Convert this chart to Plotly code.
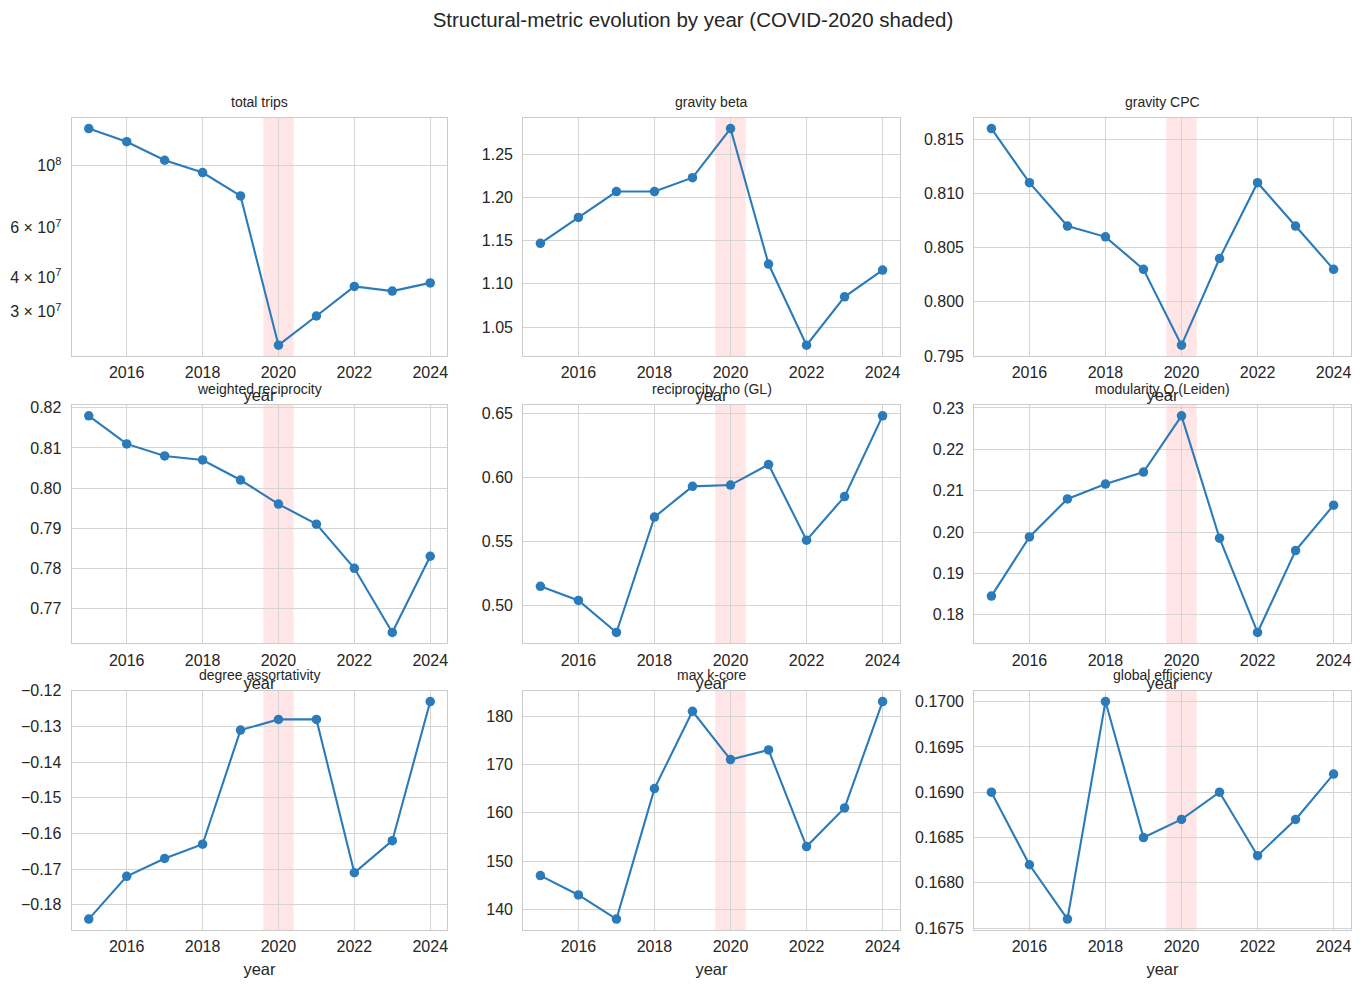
import math
import plotly.graph_objects as go

years = [2015, 2016, 2017, 2018, 2019, 2020, 2021, 2022, 2023, 2024]

total_trips = [1.36e8, 1.22e8, 1.047e8, 9.46e7, 7.8e7, 2.28e7, 2.9e7, 3.7e7, 3.56e7, 3.81e7]
gravity_beta = [1.147, 1.177, 1.207, 1.207, 1.223, 1.280, 1.123, 1.029, 1.085, 1.116]
gravity_cpc = [0.816, 0.811, 0.807, 0.806, 0.803, 0.796, 0.804, 0.811, 0.807, 0.803]
weighted_reciprocity = [0.818, 0.811, 0.808, 0.807, 0.802, 0.796, 0.791, 0.780, 0.764, 0.783]
reciprocity_rho = [0.515, 0.504, 0.479, 0.569, 0.593, 0.594, 0.610, 0.551, 0.585, 0.648]
modularity_q = [0.1845, 0.1988, 0.2080, 0.2116, 0.2145, 0.2281, 0.1985, 0.1757, 0.1955, 0.2065]
degree_assortativity = [-0.184, -0.172, -0.167, -0.163, -0.131, -0.128, -0.128, -0.171, -0.162, -0.123]
max_kcore = [147, 143, 138, 165, 181, 171, 173, 153, 161, 183]
global_efficiency = [0.1690, 0.1682, 0.1676, 0.1700, 0.1685, 0.1687, 0.1690, 0.1683, 0.1687, 0.1692]

titles = ["total trips", "gravity beta", "gravity CPC",
          "weighted reciprocity", "reciprocity rho (GL)", "modularity Q (Leiden)",
          "degree assortativity", "max k-core", "global efficiency"]
series = [total_trips, gravity_beta, gravity_cpc,
          weighted_reciprocity, reciprocity_rho, modularity_q,
          degree_assortativity, max_kcore, global_efficiency]

# y tick labels per panel
log_tickvals = [3e7, 4e7, 6e7, 1e8]
log_ticktext = ["3 × 10<sup>7</sup>", "4 × 10<sup>7</sup>", "6 × 10<sup>7</sup>", "10<sup>8</sup>"]
tick_specs = [
    None,
    ([1.05, 1.10, 1.15, 1.20, 1.25], 2),
    ([0.795, 0.800, 0.805, 0.810, 0.815], 3),
    ([0.77, 0.78, 0.79, 0.80, 0.81, 0.82], 2),
    ([0.50, 0.55, 0.60, 0.65], 2),
    ([0.18, 0.19, 0.20, 0.21, 0.22, 0.23], 2),
    ([-0.18, -0.17, -0.16, -0.15, -0.14, -0.13, -0.12], 2),
    ([140, 150, 160, 170, 180], 0),
    ([0.1675, 0.1680, 0.1685, 0.1690, 0.1695, 0.1700], 4),
]
x_ticks = [2016, 2018, 2020, 2022, 2024]

covid_start, covid_end = 2019.6, 2020.4

W, H = 1361, 989
col_dom = [(71.7 / W, 447.3 / W), (523.3 / W, 899.7 / W), (974.3 / W, 1350.7 / W)]
row_px = [(117.7, 356.0), (405.0, 643.3), (690.7, 930.0)]
row_dom = [(1 - b / H, 1 - t / H) for (t, b) in row_px]

FONT = "Liberation Sans, Arial, sans-serif"
TXT = "#262626"
GRID = "#d4d4d4"
SPINE = "#cccccc"
BLUE = "#2b7bba"

fig = go.Figure()
layout = {}
annotations = []
shapes = []

for i, (title, vals) in enumerate(zip(titles, series)):
    r, c = divmod(i, 3)
    n = i + 1
    xa = "x" if n == 1 else f"x{n}"
    ya = "y" if n == 1 else f"y{n}"
    xkey = "xaxis" if n == 1 else f"xaxis{n}"
    ykey = "yaxis" if n == 1 else f"yaxis{n}"

    fig.add_trace(go.Scatter(
        x=years, y=vals, mode="lines+markers", xaxis=xa, yaxis=ya,
        line=dict(color=BLUE, width=2.1),
        marker=dict(color=BLUE, size=9.5),
        showlegend=False,
    ))

    xpad = 0.05 * (max(years) - min(years))
    layout[xkey] = dict(
        domain=list(col_dom[c]), anchor=ya, automargin=False,
        range=[min(years) - xpad, max(years) + xpad],
        tickvals=x_ticks, ticktext=[str(v) for v in x_ticks],
        showgrid=True, gridcolor=GRID, gridwidth=1,
        showline=True, mirror=True, linecolor=SPINE, linewidth=1.25,
        zeroline=False, ticks="outside", ticklen=2, tickcolor="rgba(0,0,0,0)",
        tickfont=dict(family=FONT, size=16, color=TXT),
        title=dict(text="year", font=dict(family=FONT, size=16.5, color=TXT), standoff=9),
    )

    if i == 0:
        lo, hi = math.log10(min(vals)), math.log10(max(vals))
        pad = 0.05 * (hi - lo)
        layout[ykey] = dict(
            domain=list(row_dom[r]), anchor=xa, type="log",
            range=[lo - pad, hi + pad],
            tickvals=log_tickvals, ticktext=log_ticktext,
            showgrid=False,
            minor=dict(tickvals=[1e8], showgrid=True, gridcolor=GRID, gridwidth=1, ticks=""),
        )
    else:
        tv, dec = tick_specs[i]
        lo, hi = min(vals), max(vals)
        pad = 0.05 * (hi - lo)
        tt = [f"{v:.{dec}f}".replace("-", "\u2212") for v in tv]
        layout[ykey] = dict(
            domain=list(row_dom[r]), anchor=xa,
            range=[lo - pad, hi + pad],
            tickvals=tv, ticktext=tt,
            showgrid=True, gridcolor=GRID, gridwidth=1,
        )
    layout[ykey].update(
        automargin=False,
        showline=True, mirror=True, linecolor=SPINE, linewidth=1.25,
        zeroline=False, ticks="outside", ticklen=6, tickcolor="rgba(0,0,0,0)",
        tickfont=dict(family=FONT, size=16, color=TXT),
    )

    shapes.append(dict(
        type="rect", xref=xa, yref=f"{ya} domain",
        x0=covid_start, x1=covid_end, y0=0, y1=1,
        fillcolor="rgba(255,0,0,0.1)", line=dict(width=0), layer="below",
    ))

    annotations.append(dict(
        text=title, xref="paper", yref="paper",
        x=(col_dom[c][0] + col_dom[c][1]) / 2, y=row_dom[r][1],
        xanchor="center", yanchor="bottom", yshift=6, showarrow=False,
        font=dict(family=FONT, size=14, color=TXT),
    ))

fig.update_layout(
    width=W, height=H,
    margin=dict(l=0, r=0, t=0, b=0, autoexpand=False),
    paper_bgcolor="white", plot_bgcolor="white",
    title=dict(text="Structural-metric evolution by year (COVID-2020 shaded)",
               x=693 / W, xanchor="center", y=1 - 20 / H, yanchor="middle",
               font=dict(family=FONT, size=20.5, color=TXT)),
    annotations=annotations, shapes=shapes,
    **layout,
)

fig.write_html("out.html")
